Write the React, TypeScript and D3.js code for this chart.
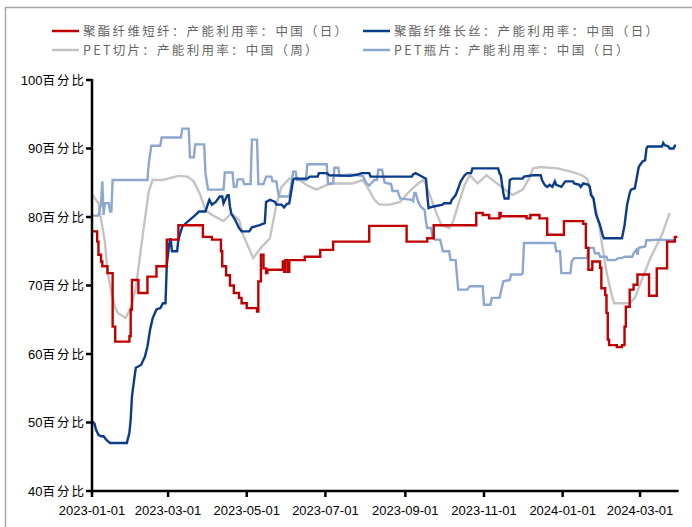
import React from "react";
import * as d3 from "d3";

type Pt = [string, number];

const seriesNames = [
  "聚酯纤维短纤：产能利用率：中国（日）",
  "聚酯纤维长丝：产能利用率：中国（日）",
  "PET切片：产能利用率：中国（周）",
  "PET瓶片：产能利用率：中国（日）",
];
const seriesColors = ["#C00000", "#0A3C8C", "#C4C4C4", "#8DA7CF"];

const yTicks = [40, 50, 60, 70, 80, 90, 100];
const xTicks = ["2023-01-01", "2023-03-01", "2023-05-01", "2023-07-01", "2023-09-01", "2023-11-01", "2024-01-01", "2024-03-01"];

// 聚酯纤维短纤 (step data)
const shortFiber: Pt[] = [
  ["2023-01-01", 77.9], ["2023-01-05", 76.4], ["2023-01-06", 74.5], ["2023-01-08", 73.5], ["2023-01-09", 72.8],
  ["2023-01-13", 71.8], ["2023-01-17", 64.0], ["2023-01-19", 61.8], ["2023-01-30", 62.6], ["2023-01-31", 66.5],
  ["2023-02-01", 70.8], ["2023-02-06", 68.9], ["2023-02-13", 71.3], ["2023-02-20", 72.8], ["2023-02-28", 76.7],
  ["2023-03-09", 78.8], ["2023-03-28", 77.1], ["2023-04-04", 76.7], ["2023-04-11", 75.0], ["2023-04-12", 72.8],
  ["2023-04-15", 71.5], ["2023-04-18", 70.0], ["2023-04-21", 68.9], ["2023-04-25", 68.2], ["2023-04-27", 67.4],
  ["2023-05-01", 66.7], ["2023-05-09", 66.2], ["2023-05-10", 70.6], ["2023-05-12", 74.5], ["2023-05-14", 72.5],
  ["2023-05-16", 71.8], ["2023-05-17", 72.3], ["2023-05-29", 73.5], ["2023-05-30", 72.0], ["2023-05-31", 73.7],
  ["2023-06-02", 72.0], ["2023-06-03", 73.7], ["2023-06-15", 74.2], ["2023-06-27", 75.2], ["2023-07-07", 76.4],
  ["2023-08-04", 78.7], ["2023-09-02", 76.4], ["2023-09-18", 76.9], ["2023-09-23", 78.8], ["2023-10-26", 80.6],
  ["2023-10-31", 80.3], ["2023-11-05", 79.8], ["2023-11-13", 80.6], ["2023-11-14", 80.1], ["2023-12-04", 79.8],
  ["2023-12-07", 80.3], ["2023-12-14", 79.8], ["2023-12-20", 77.4], ["2024-01-02", 79.4], ["2024-01-17", 79.0],
  ["2024-01-19", 75.5], ["2024-01-21", 72.3], ["2024-01-24", 73.5], ["2024-01-30", 72.6], ["2024-01-31", 69.6],
  ["2024-02-03", 68.6], ["2024-02-04", 66.0], ["2024-02-05", 62.1], ["2024-02-06", 61.3], ["2024-02-12", 61.0],
  ["2024-02-16", 61.3], ["2024-02-18", 64.0], ["2024-02-19", 66.9], ["2024-02-22", 69.4], ["2024-02-25", 70.1],
  ["2024-02-28", 71.6], ["2024-03-08", 68.5], ["2024-03-14", 72.5], ["2024-03-22", 76.4], ["2024-03-28", 77.1],
  ["2024-03-30", 77.1],
];

// 聚酯纤维长丝
const filament: Pt[] = [
  ["2023-01-01", 50.2], ["2023-01-03", 49.8], ["2023-01-04", 49.0], ["2023-01-06", 48.2], ["2023-01-08", 48.0],
  ["2023-01-10", 48.0], ["2023-01-12", 47.5], ["2023-01-15", 47.0], ["2023-01-28", 47.0], ["2023-01-30", 48.5],
  ["2023-01-31", 50.4], ["2023-02-01", 53.8], ["2023-02-03", 56.7], ["2023-02-04", 58.0], ["2023-02-08", 58.4],
  ["2023-02-11", 59.6], ["2023-02-13", 61.1], ["2023-02-15", 63.5], ["2023-02-17", 65.2], ["2023-02-20", 66.5],
  ["2023-02-23", 66.7], ["2023-02-25", 67.4], ["2023-02-27", 67.4], ["2023-02-28", 73.0], ["2023-03-02", 76.2],
  ["2023-03-03", 76.9], ["2023-03-04", 75.0], ["2023-03-08", 75.0], ["2023-03-09", 76.7], ["2023-03-12", 78.6],
  ["2023-03-16", 79.3], ["2023-03-21", 80.1], ["2023-03-25", 80.8], ["2023-03-30", 80.8], ["2023-04-01", 82.0],
  ["2023-04-02", 82.5], ["2023-04-04", 81.8], ["2023-04-07", 82.2], ["2023-04-10", 83.0], ["2023-04-12", 83.0],
  ["2023-04-13", 82.0], ["2023-04-16", 83.2], ["2023-04-17", 83.2], ["2023-04-18", 81.5], ["2023-04-19", 80.5],
  ["2023-04-22", 79.6], ["2023-04-25", 78.4], ["2023-04-27", 77.9], ["2023-05-03", 77.9], ["2023-05-05", 78.5],
  ["2023-05-11", 78.8], ["2023-05-15", 79.1], ["2023-05-16", 82.2], ["2023-05-19", 82.5], ["2023-05-23", 82.2],
  ["2023-05-24", 81.8], ["2023-05-28", 81.8], ["2023-05-30", 81.4], ["2023-06-01", 81.9], ["2023-06-03", 82.0],
  ["2023-06-06", 85.4], ["2023-06-07", 85.6], ["2023-06-17", 85.6], ["2023-06-19", 85.9], ["2023-06-25", 85.9],
  ["2023-06-26", 86.4], ["2023-07-02", 86.4], ["2023-07-04", 86.1], ["2023-07-20", 86.0], ["2023-07-26", 86.2],
  ["2023-07-29", 86.4], ["2023-08-04", 86.4], ["2023-08-05", 85.9], ["2023-09-06", 85.9], ["2023-09-07", 86.2],
  ["2023-09-09", 86.4], ["2023-09-12", 86.1], ["2023-09-17", 85.6], ["2023-09-18", 83.2], ["2023-09-19", 81.3],
  ["2023-09-22", 81.5], ["2023-09-30", 81.8], ["2023-10-01", 82.0], ["2023-10-06", 82.0], ["2023-10-07", 82.5],
  ["2023-10-10", 83.2], ["2023-10-13", 84.7], ["2023-10-14", 85.2], ["2023-10-17", 86.1], ["2023-10-19", 86.4],
  ["2023-10-22", 86.4], ["2023-10-23", 87.1], ["2023-11-12", 87.1], ["2023-11-13", 86.4], ["2023-11-14", 86.1],
  ["2023-11-16", 83.5], ["2023-11-17", 82.7], ["2023-11-20", 82.7], ["2023-11-21", 85.4], ["2023-11-23", 85.6],
  ["2023-12-01", 85.6], ["2023-12-02", 85.9], ["2023-12-09", 86.1], ["2023-12-15", 86.1], ["2023-12-16", 85.4],
  ["2023-12-18", 84.7], ["2023-12-20", 84.4], ["2023-12-22", 84.7], ["2023-12-24", 84.4], ["2023-12-26", 85.2],
  ["2023-12-27", 84.7], ["2023-12-31", 84.4], ["2024-01-03", 85.2], ["2024-01-09", 85.2], ["2024-01-10", 84.9],
  ["2024-01-14", 84.7], ["2024-01-15", 84.4], ["2024-01-17", 84.9], ["2024-01-21", 84.7], ["2024-01-22", 84.4],
  ["2024-01-23", 83.2], ["2024-01-25", 82.7], ["2024-01-26", 81.3], ["2024-01-27", 80.3], ["2024-01-30", 78.8],
  ["2024-02-01", 77.4], ["2024-02-02", 76.9], ["2024-02-16", 76.9], ["2024-02-18", 78.8], ["2024-02-20", 81.8],
  ["2024-02-22", 83.5], ["2024-02-23", 84.0], ["2024-02-26", 84.2], ["2024-02-29", 87.3], ["2024-03-01", 87.6],
  ["2024-03-03", 88.1], ["2024-03-05", 88.3], ["2024-03-06", 90.0], ["2024-03-07", 90.3], ["2024-03-18", 90.3],
  ["2024-03-19", 90.8], ["2024-03-20", 90.5], ["2024-03-23", 90.3], ["2024-03-24", 90.0], ["2024-03-27", 90.0],
  ["2024-03-28", 90.4], ["2024-03-29", 90.4],
];

// PET切片 (weekly)
const petChip: Pt[] = [
  ["2023-01-01", 83.3], ["2023-01-06", 82.0], ["2023-01-07", 80.8], ["2023-01-11", 76.4], ["2023-01-13", 72.0],
  ["2023-01-16", 69.1], ["2023-01-19", 66.7], ["2023-01-21", 66.0], ["2023-01-27", 65.3], ["2023-01-31", 66.7],
  ["2023-02-04", 69.6], ["2023-02-09", 76.9], ["2023-02-14", 83.7], ["2023-02-17", 85.4], ["2023-02-25", 85.4],
  ["2023-03-03", 85.7], ["2023-03-09", 86.0], ["2023-03-16", 85.9], ["2023-03-21", 85.2], ["2023-03-26", 83.2],
  ["2023-03-30", 81.0], ["2023-04-04", 80.3], ["2023-04-13", 79.4], ["2023-04-19", 80.5], ["2023-04-25", 79.6],
  ["2023-04-28", 77.5], ["2023-05-06", 74.0], ["2023-05-12", 75.5], ["2023-05-19", 76.9], ["2023-05-24", 81.8],
  ["2023-05-28", 84.4], ["2023-06-03", 85.6], ["2023-06-10", 85.6], ["2023-06-16", 84.7], ["2023-06-24", 84.0],
  ["2023-07-02", 84.7], ["2023-07-08", 84.9], ["2023-07-22", 84.9], ["2023-07-30", 85.4], ["2023-08-03", 84.2],
  ["2023-08-08", 82.5], ["2023-08-12", 81.8], ["2023-08-20", 81.8], ["2023-08-28", 82.2], ["2023-09-04", 83.7],
  ["2023-09-11", 84.9], ["2023-09-15", 85.4], ["2023-09-17", 84.7], ["2023-09-21", 82.7], ["2023-09-25", 80.6],
  ["2023-09-29", 78.8], ["2023-10-05", 78.4], ["2023-10-08", 79.3], ["2023-10-12", 81.8], ["2023-10-17", 84.7],
  ["2023-10-21", 86.1], ["2023-10-27", 84.9], ["2023-11-03", 86.1], ["2023-11-09", 85.2], ["2023-11-16", 84.2],
  ["2023-11-23", 83.2], ["2023-12-01", 84.0], ["2023-12-06", 85.6], ["2023-12-09", 87.1], ["2023-12-15", 87.3],
  ["2023-12-28", 87.1], ["2024-01-08", 86.6], ["2024-01-16", 86.1], ["2024-01-20", 85.6], ["2024-01-23", 83.7],
  ["2024-01-26", 81.8], ["2024-01-29", 79.3], ["2024-02-01", 75.5], ["2024-02-04", 72.0], ["2024-02-08", 68.6],
  ["2024-02-10", 67.4], ["2024-02-22", 67.4], ["2024-02-26", 68.2], ["2024-03-03", 71.1], ["2024-03-09", 74.0],
  ["2024-03-18", 77.4], ["2024-03-24", 80.6],
];

// PET瓶片
const petBottle: Pt[] = [
  ["2023-01-01", 80.2], ["2023-01-06", 80.2], ["2023-01-08", 82.0], ["2023-01-09", 85.2], ["2023-01-10", 80.3],
  ["2023-01-11", 82.0], ["2023-01-14", 82.0], ["2023-01-15", 80.8], ["2023-01-16", 80.8], ["2023-01-17", 85.4],
  ["2023-02-13", 85.4], ["2023-02-14", 87.8], ["2023-02-16", 90.4], ["2023-02-23", 90.4], ["2023-02-24", 91.6],
  ["2023-03-11", 91.6], ["2023-03-12", 92.9], ["2023-03-17", 92.9], ["2023-03-18", 88.7], ["2023-03-21", 88.7],
  ["2023-03-22", 90.6], ["2023-03-29", 90.6], ["2023-03-30", 86.4], ["2023-04-01", 84.0], ["2023-04-13", 84.0],
  ["2023-04-14", 86.5], ["2023-04-20", 86.5], ["2023-04-21", 84.4], ["2023-04-23", 84.4], ["2023-04-24", 85.5],
  ["2023-04-28", 85.5], ["2023-04-29", 84.8], ["2023-05-04", 84.8], ["2023-05-05", 91.3], ["2023-05-09", 91.3],
  ["2023-05-10", 84.8], ["2023-05-14", 84.8], ["2023-05-16", 85.9], ["2023-05-20", 85.9], ["2023-05-21", 85.2],
  ["2023-05-24", 85.2], ["2023-05-25", 84.0], ["2023-05-26", 83.0], ["2023-06-03", 83.0], ["2023-06-04", 84.0],
  ["2023-06-06", 86.6], ["2023-06-08", 86.6], ["2023-06-09", 85.4], ["2023-06-16", 85.4], ["2023-06-17", 87.7],
  ["2023-07-02", 87.7], ["2023-07-03", 84.9], ["2023-07-07", 84.9], ["2023-07-08", 87.2], ["2023-07-11", 87.2],
  ["2023-07-12", 86.0], ["2023-07-20", 86.2], ["2023-07-30", 86.0], ["2023-08-02", 84.9], ["2023-08-04", 84.6],
  ["2023-08-08", 85.4], ["2023-08-10", 85.4], ["2023-08-11", 86.9], ["2023-08-14", 86.9], ["2023-08-16", 85.0],
  ["2023-08-21", 84.8], ["2023-08-22", 83.8], ["2023-08-26", 83.8], ["2023-08-28", 82.7], ["2023-09-06", 82.5],
  ["2023-09-07", 82.3], ["2023-09-08", 83.5], ["2023-09-09", 83.5], ["2023-09-11", 82.2], ["2023-09-13", 81.5],
  ["2023-09-16", 81.0], ["2023-09-17", 79.3], ["2023-09-18", 78.4], ["2023-09-21", 78.4], ["2023-09-22", 77.1],
  ["2023-09-24", 76.7], ["2023-09-28", 76.7], ["2023-09-29", 75.9], ["2023-09-30", 75.0], ["2023-10-05", 75.0],
  ["2023-10-06", 73.7], ["2023-10-10", 73.7], ["2023-10-12", 69.4], ["2023-10-19", 69.4], ["2023-10-21", 69.9],
  ["2023-10-31", 69.9], ["2023-11-01", 67.2], ["2023-11-06", 67.2], ["2023-11-07", 68.2], ["2023-11-13", 68.2],
  ["2023-11-16", 70.6], ["2023-11-21", 70.8], ["2023-11-22", 71.6], ["2023-11-30", 71.6], ["2023-12-01", 71.8],
  ["2023-12-02", 76.2], ["2023-12-26", 76.2], ["2023-12-27", 75.0], ["2023-12-30", 75.0], ["2023-12-31", 71.8],
  ["2024-01-07", 71.8], ["2024-01-08", 73.5], ["2024-01-10", 74.0], ["2024-01-20", 74.0], ["2024-01-21", 75.5],
  ["2024-01-25", 75.5], ["2024-01-26", 74.7], ["2024-01-29", 74.7], ["2024-01-30", 74.2], ["2024-02-04", 74.2],
  ["2024-02-05", 73.7], ["2024-02-11", 73.7], ["2024-02-13", 74.0], ["2024-02-16", 74.0], ["2024-02-18", 74.2],
  ["2024-02-24", 74.2], ["2024-02-25", 74.7], ["2024-02-27", 75.2], ["2024-02-28", 74.5], ["2024-02-29", 75.5],
  ["2024-03-05", 75.7], ["2024-03-06", 76.6], ["2024-03-09", 76.6], ["2024-03-14", 76.7], ["2024-03-29", 76.6],
];

const W = 692;
const H = 527;
const parse = d3.timeParse("%Y-%m-%d");

export default function App() {
  const x = d3
    .scaleTime()
    .domain([parse("2023-01-01") as Date, parse("2024-03-31") as Date])
    .range([92, 678.7]);
  const y = d3.scaleLinear().domain([40, 100]).range([491, 80]);

  const mk = (curve: d3.CurveFactory) =>
    d3
      .line<Pt>()
      .x((d) => x(parse(d[0]) as Date))
      .y((d) => y(d[1]))
      .curve(curve);

  const paths = [
    { data: petChip, color: seriesColors[2], curve: d3.curveLinear },
    { data: petBottle, color: seriesColors[3], curve: d3.curveLinear },
    { data: filament, color: seriesColors[1], curve: d3.curveLinear },
    { data: shortFiber, color: seriesColors[0], curve: d3.curveStepAfter },
  ];

  const legendPos = [
    { lx: 52, ty: 31 },
    { lx: 363, ty: 31 },
    { lx: 52, ty: 50 },
    { lx: 363, ty: 50 },
  ];

  const cjk = "'Noto Sans CJK SC', 'Liberation Sans', sans-serif";
  const num = "'Liberation Sans', Arial, sans-serif";

  return (
    <svg
      width={W}
      height={H}
      style={{ position: "absolute", left: 0, top: 0, background: "#fff" }}
    >
      <rect x={5.5} y={7.5} width={W + 10} height={H + 10} fill="none" stroke="#A6A6A6" strokeWidth={1.5} />

      {seriesNames.map((name, i) => (
        <g key={name}>
          <line
            x1={legendPos[i].lx}
            x2={legendPos[i].lx + 27}
            y1={legendPos[i].ty}
            y2={legendPos[i].ty}
            stroke={seriesColors[i]}
            strokeWidth={2.5}
          />
          <text
            x={legendPos[i].lx + 31}
            y={legendPos[i].ty + 4.5}
            fontFamily={cjk}
            fontSize={12.5}
            letterSpacing={2.3}
            fill="#666666"
          >
            {name}
          </text>
        </g>
      ))}

      {paths.map((p, i) => (
        <path
          key={i}
          d={mk(p.curve)(p.data) || ""}
          fill="none"
          stroke={p.color}
          strokeWidth={2.4}
          strokeLinejoin="miter"
        />
      ))}

      {/* y axis */}
      <line x1={92} x2={92} y1={y(100) - 1} y2={y(40) + 1} stroke="#000" strokeWidth={2.5} />
      {yTicks.map((t) => (
        <g key={t}>
          <line x1={86} x2={92} y1={y(t)} y2={y(t)} stroke="#000" strokeWidth={2.5} />
          <text x={84} y={y(t) + 4.5} textAnchor="end" fontSize={13} fill="#000">
            <tspan fontFamily={num}>{t}</tspan>
            <tspan fontFamily={cjk} fontSize={12.5} letterSpacing={2}>百分</tspan>
            <tspan fontFamily={cjk} fontSize={12.5}>比</tspan>
          </text>
        </g>
      ))}

      {/* x axis */}
      <line x1={91} x2={678.7} y1={y(40)} y2={y(40)} stroke="#000" strokeWidth={2.5} />
      {xTicks.map((t) => {
        const px = x(parse(t) as Date);
        return (
          <g key={t}>
            <line x1={px} x2={px} y1={y(40)} y2={y(40) + 6} stroke="#000" strokeWidth={2.5} />
            <text x={px} y={515} textAnchor="middle" fontFamily={num} fontSize={13} fill="#000">
              {t}
            </text>
          </g>
        );
      })}
    </svg>
  );
}
